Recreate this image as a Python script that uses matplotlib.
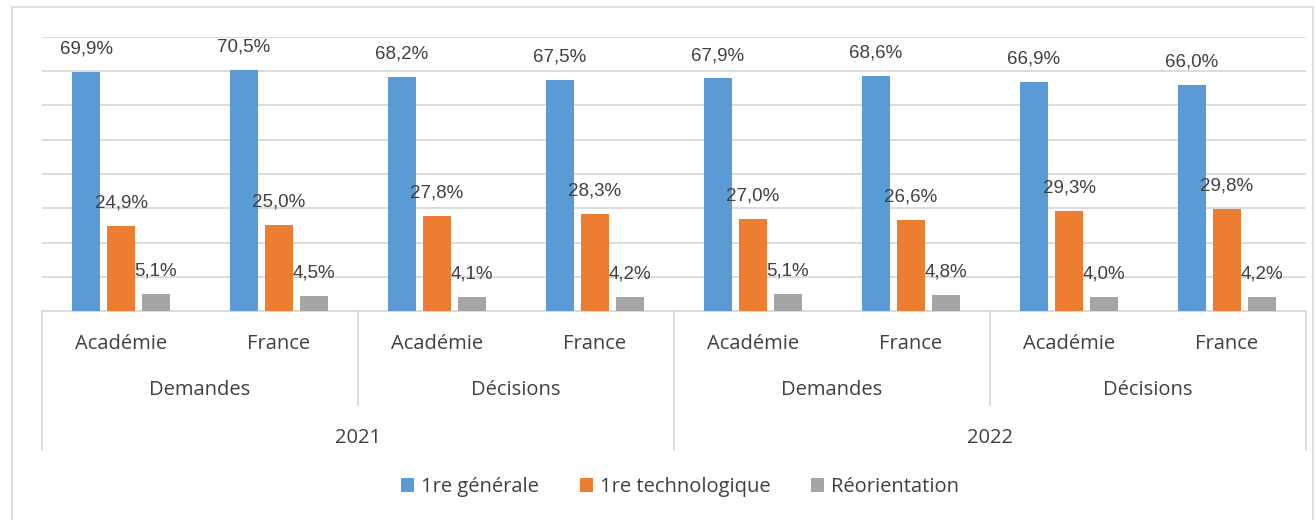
import matplotlib.pyplot as plt
from matplotlib.patches import Patch, Rectangle

# Data
years      = ["2021", "2022"]
kinds      = ["Demandes", "Décisions", "Demandes", "Décisions"]
places     = ["Académie", "France"] * 4
series     = ["1re générale", "1re technologique", "Réorientation"]
generale   = [69.9, 70.5, 68.2, 67.5, 67.9, 68.6, 66.9, 66.0]
techno     = [24.9, 25.0, 27.8, 28.3, 27.0, 26.6, 29.3, 29.8]
reorient   = [5.1, 4.5, 4.1, 4.2, 5.1, 4.8, 4.0, 4.2]

colors = ["#5B9BD5", "#ED7D31", "#A5A5A5"]
grid_c = "#D9D9D9"
txt_c = "#404040"

fig = plt.figure(figsize=(13.15, 5.2), dpi=100)
ax = fig.add_axes([42/1315, 1 - 311/520, 1264/1315, 274/520])

# outer chart frame
fig.patches.append(Rectangle((12/1315, -0.01), 1301/1315, 1 - 7/520 + 0.01,
                             transform=fig.transFigure, fill=False,
                             edgecolor=grid_c, linewidth=1.2))

step, width = 0.2215, 0.171
for k, vals in enumerate([generale, techno, reorient]):
    xs = [i + (k - 1) * step for i in range(len(vals))]
    ax.bar(xs, vals, width=width, color=colors[k], zorder=3)
    for x, v in zip(xs, vals):
        ax.annotate(f"{v:.1f}%".replace(".", ","), xy=(x, v), xytext=(0, 16.5),
                    textcoords="offset points", ha="center", va="center",
                    fontsize=13.5, color=txt_c, family="Liberation Sans", zorder=4)

ax.set_xlim(-0.5, 7.5)
ax.set_ylim(0, 80)
ax.set_yticks(range(10, 81, 10))
ax.yaxis.grid(True, color=grid_c, linewidth=1.3, zorder=0)
ax.set_xticks([])
ax.tick_params(left=False, labelleft=False)
for s in ["left", "right", "top"]:
    ax.spines[s].set_visible(False)
ax.spines["bottom"].set_color(grid_c)
ax.spines["bottom"].set_linewidth(1.3)

# multi-level category axis
tr = ax.get_xaxis_transform()
lab_font = dict(family="Open Sans", fontsize=14.5, color=txt_c, ha="center", va="center")
for i, p in enumerate(places):
    ax.text(i, -33/274, p, transform=tr, **lab_font)
for j, k in enumerate(kinds):
    ax.text(2 * j + 0.5, -79/274, k, transform=tr, **lab_font)
for j, y in enumerate(years):
    ax.text(4 * j + 1.5, -127/274, y, transform=tr, **lab_font)

for x in [-0.5, 1.5, 3.5, 5.5, 7.5]:
    depth = -139/274 if x in (-0.5, 3.5, 7.5) else -94/274
    ax.plot([x, x], [0, depth], transform=tr, color=grid_c, linewidth=1.3, clip_on=False)

handles = [Patch(facecolor=c, edgecolor="none") for c in colors]
fig.legend(handles, series, loc="center", bbox_to_anchor=(680/1315, 1 - 487/520),
           ncol=3, frameon=False, handlelength=0.65, handleheight=0.65,
           handletextpad=0.35, columnspacing=2.0,
           prop=dict(family="Open Sans", size=14.5), labelcolor=txt_c)

fig.savefig("out.png", dpi=100)
